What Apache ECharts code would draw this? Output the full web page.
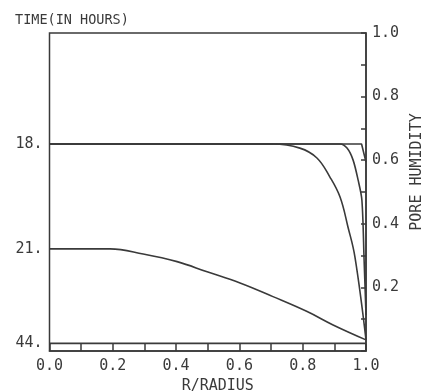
<!DOCTYPE html>
<html><head><meta charset="utf-8">
<script src="https://cdn.jsdelivr.net/npm/echarts@6/dist/echarts.min.js"></script>
<style>html,body{margin:0;padding:0;background:#fff}#c{width:431px;height:392px}</style>
</head><body><div id="c"></div>
<script>
// Time labels on the left and the humidity level at which each is printed
const timeLabels = ['18.', '21.', '44.'];
const timeLevels = [0.651, 0.321, 0.024];

// Profiles: [r/radius, pore humidity]
const profileA = [[0,0.651],[0.986,0.651],[1.0,0.594]];
const profileB = [[0,0.651],[0.918,0.651],[0.940,0.638],[0.959,0.601],[0.975,0.538],[0.987,0.475],[0.994,0.286],[1.0,0.113]];
const profileC = [[0,0.651],[0.706,0.651],[0.791,0.638],[0.845,0.607],[0.886,0.547],[0.918,0.484],[0.943,0.390],[0.965,0.296],[1.0,0.035]];
const profileD = [[0,0.321],[0.191,0.321],[0.296,0.305],[0.403,0.281],[0.498,0.249],[0.602,0.214],[0.706,0.171],[0.814,0.124],[0.896,0.082],[1.0,0.035]];
const profileE = [[0,0.024],[1.0,0.024]];

const ink = '#3a3a3a';
const font = 'DejaVu Sans Mono';

const chart = echarts.init(document.getElementById('c'), null, {renderer:'canvas'});
function mk(d, smooth){
  return {type:'line', data:d, showSymbol:false, smooth:smooth, yAxisIndex:0,
    lineStyle:{color:ink, width:1.6}, animation:false};
}
chart.setOption({
  animation:false,
  title:{text:'TIME(IN HOURS)', left:10, top:8, textStyle:{fontFamily:font, fontSize:13.5, fontWeight:'normal', color:ink}},
  grid:{left:49.5, right:65, top:33, bottom:41, show:true, borderColor:ink, borderWidth:1.5,
    containLabel:false, outerBoundsMode:'none'},
  xAxis:{type:'value', min:0, max:1, interval:0.1,
    name:'R/RADIUS', nameLocation:'middle', nameGap:26,
    nameTextStyle:{fontFamily:font, fontSize:15, color:ink, padding:[0,0,0,20]},
    axisLine:{show:true, lineStyle:{color:ink, width:1.5}},
    axisTick:{show:true, inside:true, length:7, lineStyle:{color:ink, width:1.5}},
    splitLine:{show:false},
    axisLabel:{fontFamily:font, fontSize:15, color:ink, margin:8,
      formatter:v=>{const k=Math.round(v*10); return k%2===0 ? (k/10).toFixed(1) : '';}}
  },
  yAxis:[
    {type:'value', position:'right', min:0, max:1, interval:0.1,
      name:'PORE HUMIDITY', nameLocation:'middle', nameRotate:90, nameGap:44,
      nameTextStyle:{fontFamily:font, fontSize:15, color:ink, padding:[0,0,0,40]},
      axisLine:{show:true, onZero:false, lineStyle:{color:ink, width:1.5}},
      axisTick:{show:true, inside:true, length:5, lineStyle:{color:ink, width:1.5}},
      splitLine:{show:false},
      axisLabel:{fontFamily:font, fontSize:15, color:ink, margin:6,
        formatter:v=>{const k=Math.round(v*10); return (k%2===0 && k>0) ? (k/10).toFixed(1) : '';}}
    },
    {type:'value', position:'left', min:0, max:1, interval:0.1,
      axisLine:{show:false, onZero:false},
      axisTick:{show:false}, splitLine:{show:false},
      axisLabel:{fontFamily:font, fontSize:15, color:ink, margin:7,
        customValues:timeLevels,
        formatter:v=>{const i=timeLevels.findIndex(t=>Math.abs(t-v)<1e-6); return i>=0?timeLabels[i]:'';}}
    }
  ],
  series:[mk(profileA,false), mk(profileB,0.3), mk(profileC,0.4), mk(profileD,0.4), mk(profileE,false)]
});
</script></body></html>
